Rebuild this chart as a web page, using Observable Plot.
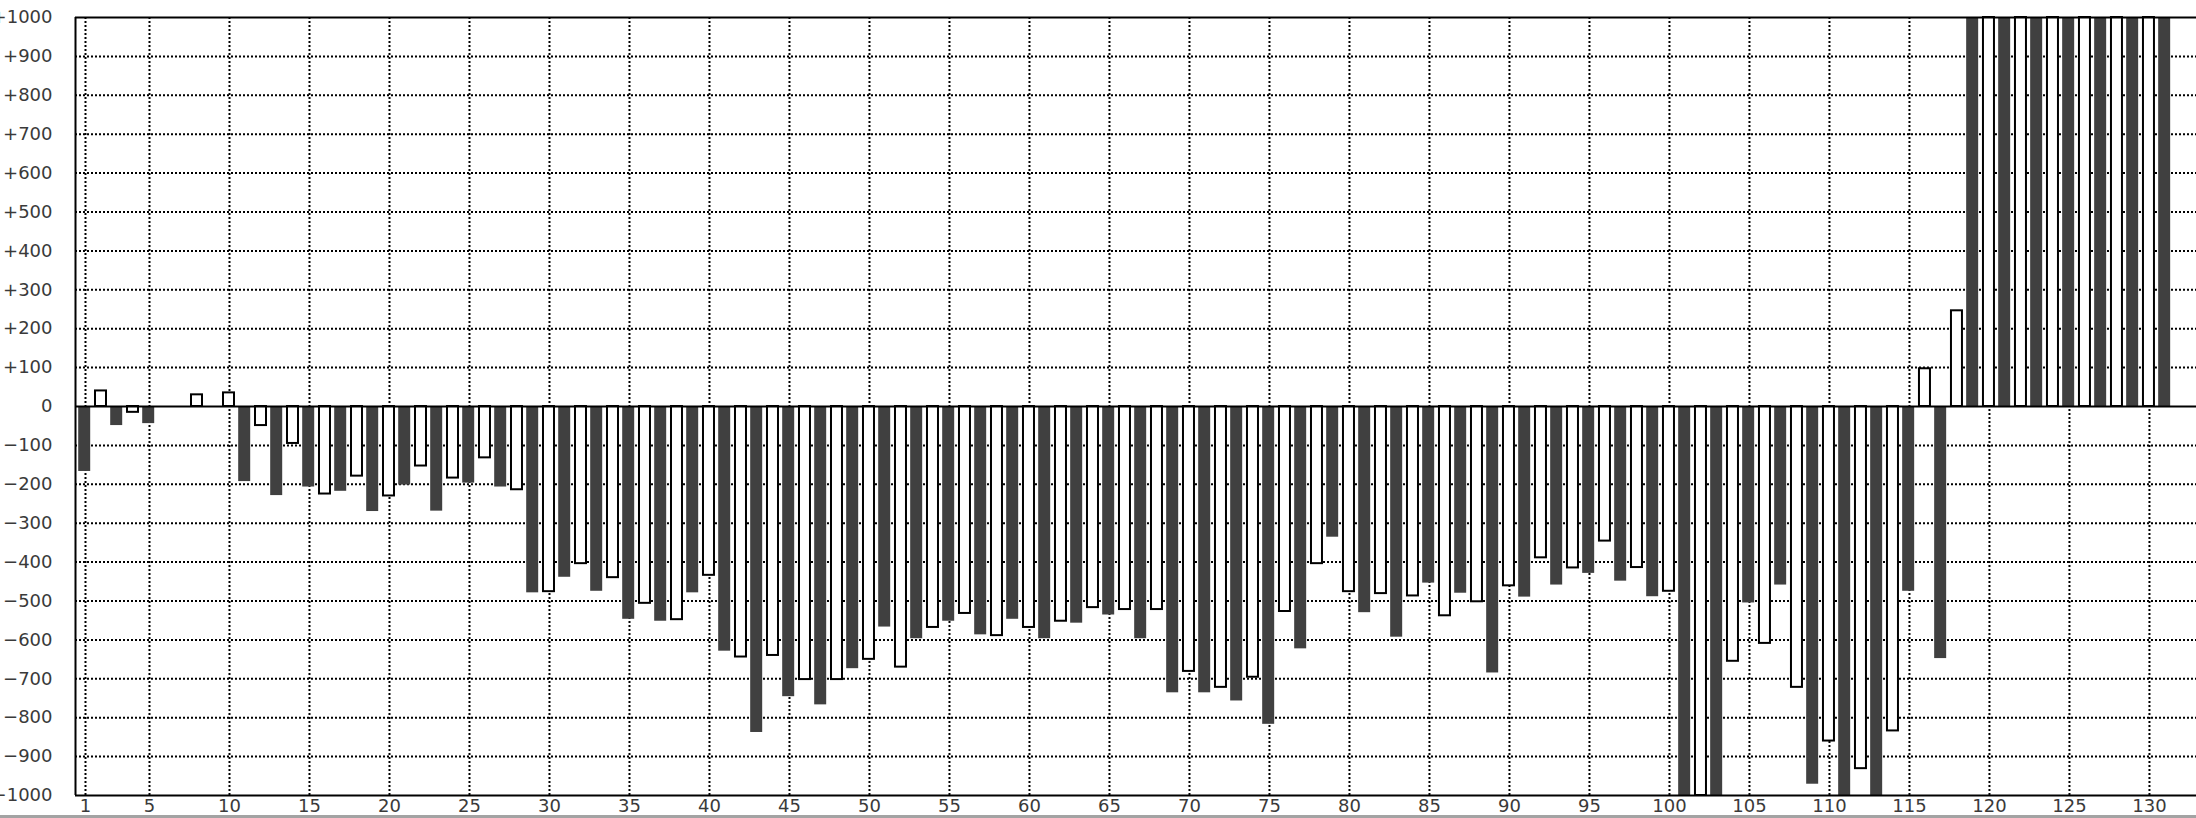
<!DOCTYPE html>
<html>
<head>
<meta charset="utf-8">
<script src="https://cdn.jsdelivr.net/npm/d3@7"></script>
<script src="https://cdn.jsdelivr.net/npm/@observablehq/plot@0.6"></script>
<style>
  html, body { margin: 0; padding: 0; background: #fff; overflow: hidden; }
  #wrap { position: relative; width: 2196px; height: 818px; }
  #edge { position: absolute; left: 0; top: 815px; width: 2196px; height: 3px; background: #a3a3a3; }
</style>
</head>
<body>
<div id="wrap"><div id="chart"></div><div id="edge"></div></div>
<script>
// Bar values for positions 1..131 (odd positions = dark bars, even = white bars)
const barValues = [
  -167,   40,  -49,  -15,  -44,    0,    0,   30,    0,   35,
  -193,  -49, -229,  -95, -207, -225, -218, -179, -270, -230,
  -202, -153, -269, -184, -197, -132, -207, -214, -479, -476,
  -439, -404, -475, -440, -547, -506, -552, -548, -479, -434,
  -629, -644, -838, -640, -746, -702, -767, -702, -674, -650,
  -567, -670, -597, -568, -552, -532, -587, -589, -547, -568,
  -597, -552, -557, -517, -536, -522, -597, -522, -736, -681,
  -736, -722, -757, -696, -817, -527, -623, -404, -336, -476,
  -530, -481, -593, -487, -454, -538, -480, -502, -685, -461,
  -490, -389, -459, -415, -429, -346, -449, -414, -489, -475,
  -1000, -1000, -1000, -655, -505, -609, -459, -722, -971, -860,
  -1000, -931, -1000, -834, -475,   97, -648,  246, 1000, 1000,
  1000, 1000, 1000, 1000, 1000, 1000, 1000, 1000, 1000, 1000,
  1000
];
const xTicks = [1, 5, 10, 15, 20, 25, 30, 35, 40, 45, 50, 55, 60, 65, 70, 75, 80, 85, 90, 95, 100, 105, 110, 115, 120, 125, 130];
const yTicks = [-1000, -900, -800, -700, -600, -500, -400, -300, -200, -100, 0, 100, 200, 300, 400, 500, 600, 700, 800, 900, 1000];
const xDomain = [0.375, 132.94];
const yDomain = [-1000, 1000];

const data = barValues.map((v, k) => ({i: k + 1, v}));
const darkBars = data.filter(d => d.i % 2 === 1);
const whiteBars = data.filter(d => d.i % 2 === 0);
const yGrid = yTicks.filter(t => t !== 0 && t !== yDomain[0] && t !== yDomain[1]);
const fmtY = d => d > 0 ? "+" + d : d < 0 ? "\u2212" + (-d) : "0";

const chart = Plot.plot({
  width: 2196,
  height: 818,
  marginLeft: 75,
  marginRight: 0,
  marginTop: 17,
  marginBottom: 23,
  style: {fontFamily: "'DejaVu Sans', sans-serif", fontSize: "18px", color: "#3a3a3a", background: "#fff"},
  x: {domain: xDomain, ticks: xTicks, tickSize: 0, tickPadding: 4, tickFormat: d => String(d), label: null},
  y: {domain: yDomain, ticks: yTicks, tickSize: 0, tickPadding: 23, tickFormat: fmtY, label: null},
  marks: [
    Plot.ruleX(xTicks, {stroke: "black", strokeWidth: 2, strokeDasharray: "2,2"}),
    Plot.ruleY(yGrid, {stroke: "black", strokeWidth: 2, strokeDasharray: "2,2"}),
    Plot.rectY(whiteBars, {x1: d => d.i - 0.5, x2: d => d.i + 0.5, y: "v", fill: "white", stroke: "black", strokeWidth: 2, insetLeft: 2, insetRight: 3}),
    Plot.rectY(darkBars, {x1: d => d.i - 0.5, x2: d => d.i + 0.5, y: "v", fill: "#404040", insetLeft: 1.2, insetRight: 2.8}),
    Plot.ruleY([0], {stroke: "black", strokeWidth: 2}),
    Plot.ruleY(yDomain, {stroke: "black", strokeWidth: 2}),
    Plot.ruleX([xDomain[0]], {stroke: "black", strokeWidth: 2})
  ]
});
document.getElementById("chart").appendChild(chart);
</script>
</body>
</html>
